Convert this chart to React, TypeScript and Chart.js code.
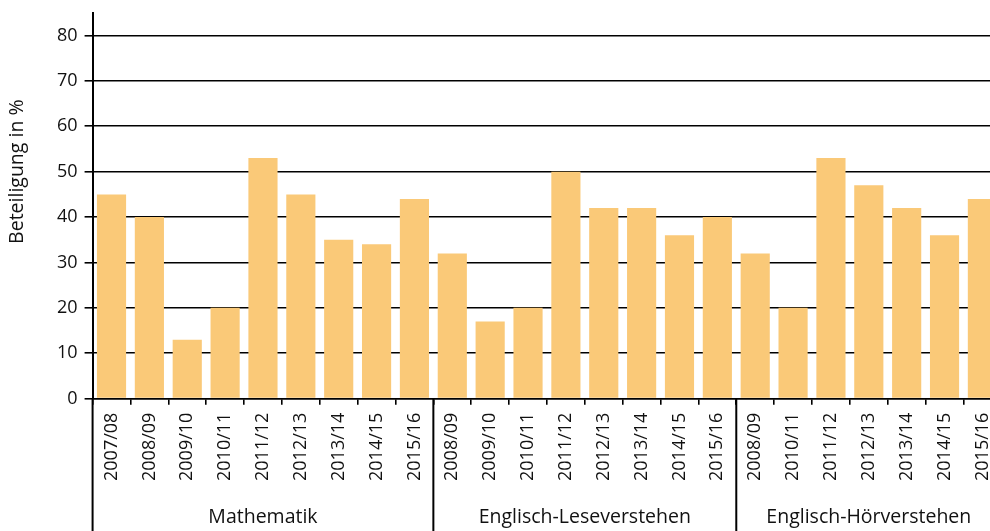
import React, { useEffect, useRef } from "react";
import { Chart, registerables } from "chart.js";

Chart.register(...registerables);

const groupNames = ["Mathematik", "Englisch-Leseverstehen", "Englisch-Hörverstehen"];
const mathYears = ["2007/08", "2008/09", "2009/10", "2010/11", "2011/12", "2012/13", "2013/14", "2014/15", "2015/16"];
const mathValues = [45, 40, 13, 20, 53, 45, 35, 34, 44];
const leseYears = ["2008/09", "2009/10", "2010/11", "2011/12", "2012/13", "2013/14", "2014/15", "2015/16"];
const leseValues = [32, 17, 20, 50, 42, 42, 36, 40];
const hoerYears = ["2008/09", "2010/11", "2011/12", "2012/13", "2013/14", "2014/15", "2015/16"];
const hoerValues = [32, 20, 53, 47, 42, 36, 44];
const yTitle = "Beteiligung in %";

const groupYears = [mathYears, leseYears, hoerYears];
const groupValues = [mathValues, leseValues, hoerValues];

const FONT = "'Open Sans', 'Noto Sans', sans-serif";
const TEXT = "#111";

export default function App() {
  const ref = useRef<HTMLCanvasElement | null>(null);

  useEffect(() => {
    const labels: string[] = [];
    const values: number[] = [];
    const sizes: number[] = [];
    groupYears.forEach((ys, g) => {
      ys.forEach((y, i) => {
        labels.push(y);
        values.push(groupValues[g][i]);
      });
      sizes.push(ys.length);
    });

    const groupPlugin = {
      id: "groups",
      afterDraw(chart: any) {
        const ctx = chart.ctx;
        const xs = chart.scales.x;
        const ys = chart.scales.y;
        const area = chart.chartArea;
        const H = chart.height;
        const boundary = (i: number) => {
          if (i <= 0) return area.left;
          if (i >= labels.length) return area.right;
          return (xs.getPixelForTick(i - 1) + xs.getPixelForTick(i)) / 2;
        };
        ctx.save();
        ctx.strokeStyle = "#000";
        ctx.lineWidth = 2;
        ctx.beginPath();
        ctx.moveTo(area.left, area.bottom);
        ctx.lineTo(area.left, H);
        ctx.stroke();
        let start = 0;
        ctx.font = `19.5px ${FONT}`;
        ctx.fillStyle = TEXT;
        ctx.textAlign = "center";
        ctx.textBaseline = "middle";
        sizes.forEach((n, g) => {
          const l = boundary(start);
          const r = boundary(start + n);
          if (start > 0) {
            ctx.beginPath();
            ctx.moveTo(l, area.bottom);
            ctx.lineTo(l, H);
            ctx.stroke();
          }
          ctx.fillText(groupNames[g], (l + r) / 2, H - 14);
          start += n;
        });
        ctx.save();
        ctx.translate(17, ys.getPixelForValue(50));
        ctx.rotate(-Math.PI / 2);
        ctx.fillText(yTitle, 0, 0);
        ctx.restore();
        ctx.restore();
      },
    };

    const chart = new Chart(ref.current!, {
      type: "bar",
      data: {
        labels,
        datasets: [
          {
            data: values,
            backgroundColor: "#FAC978",
            borderWidth: 0,
            barPercentage: 0.77,
            categoryPercentage: 1,
          },
        ],
      },
      options: {
        responsive: false,
        animation: false,
        layout: { padding: { left: 50, top: 5, right: 0, bottom: 42 } },
        plugins: { legend: { display: false }, tooltip: { enabled: false } },
        scales: {
          x: {
            grid: {
              offset: true,
              drawOnChartArea: false,
              color: "#000",
              tickLength: 6,
              lineWidth: 1.6,
            },
            border: { color: "#000", width: 1.6 },
            ticks: {
              minRotation: 90,
              maxRotation: 90,
              autoSkip: false,
              color: TEXT,
              font: { family: FONT, size: 18 },
              padding: 8,
            },
          },
          y: {
            min: 0,
            max: 85,
            afterBuildTicks: (scale: any) => {
              scale.ticks = scale.ticks.filter((t: any) => t.value <= 80);
            },
            ticks: {
              stepSize: 10,
              color: TEXT,
              font: { family: FONT, size: 18 },
              padding: 7,
            },
            grid: { color: "#000", lineWidth: 1.6, tickLength: 8 },
            border: { color: "#000", width: 2 },
          },
        },
      },
      plugins: [groupPlugin],
    });
    return () => chart.destroy();
  }, []);

  return (
    <div style={{ position: "fixed", left: 0, top: 0, width: 990, height: 531, overflow: "hidden", background: "#fff" }}>
      <canvas ref={ref} width={1012} height={536} style={{ display: "block", position: "absolute", left: 0, top: -5 }} />
    </div>
  );
}
